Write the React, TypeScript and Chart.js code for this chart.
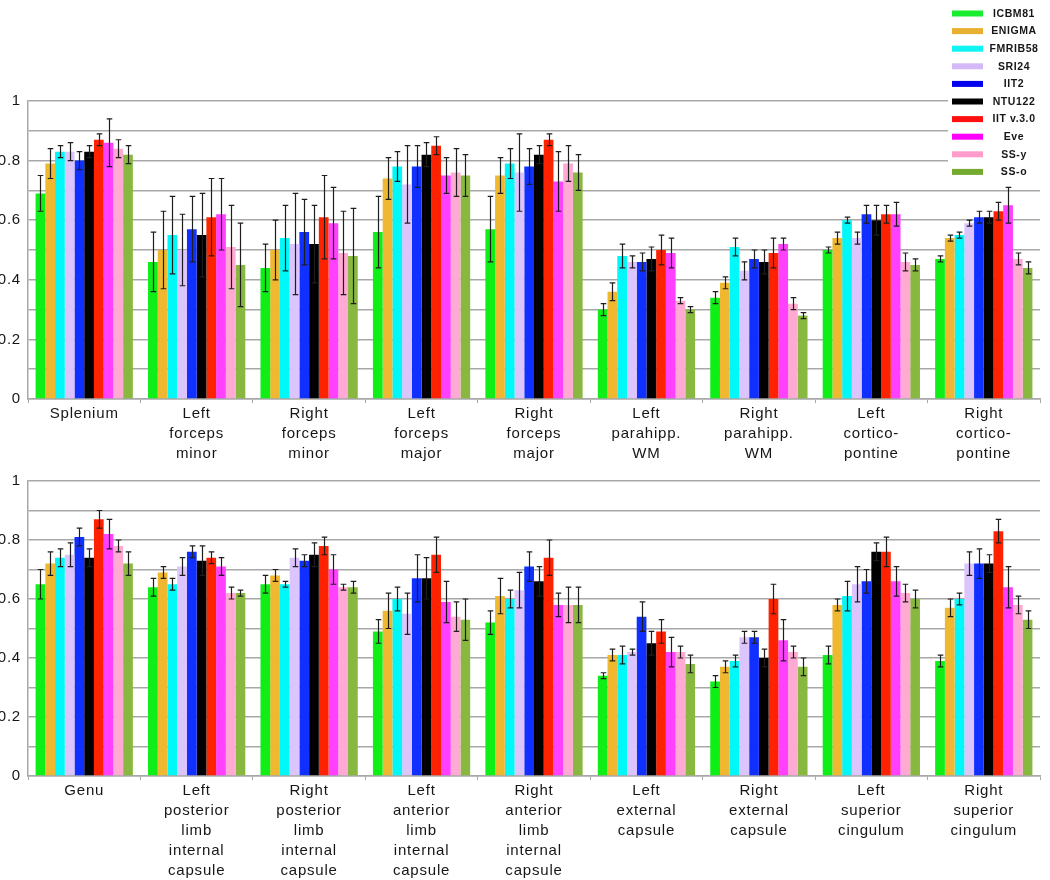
import React, { useEffect, useRef } from 'react';
import { Chart, registerables } from 'chart.js';

Chart.register(...registerables);

// ---------- DATA ----------
const SERIES = ['ICBM81', 'ENIGMA', 'FMRIB58', 'SRI24', 'IIT2', 'NTU122', 'IIT v.3.0', 'Eve', 'SS-y', 'SS-o'];

const TOP_CATEGORIES = [
  ['Splenium'],
  ['Left', 'forceps', 'minor'],
  ['Right', 'forceps', 'minor'],
  ['Left', 'forceps', 'major'],
  ['Right', 'forceps', 'major'],
  ['Left', 'parahipp.', 'WM'],
  ['Right', 'parahipp.', 'WM'],
  ['Left', 'cortico-', 'pontine'],
  ['Right', 'cortico-', 'pontine'],
];

const BOTTOM_CATEGORIES = [
  ['Genu'],
  ['Left', 'posterior', 'limb', 'internal', 'capsule'],
  ['Right', 'posterior', 'limb', 'internal', 'capsule'],
  ['Left', 'anterior', 'limb', 'internal', 'capsule'],
  ['Right', 'anterior', 'limb', 'internal', 'capsule'],
  ['Left', 'external', 'capsule'],
  ['Right', 'external', 'capsule'],
  ['Left', 'superior', 'cingulum'],
  ['Right', 'superior', 'cingulum'],
];

const Y_LABELED_TICKS = [0, 0.2, 0.4, 0.6, 0.8, 1];

// Top panel means
const TOP_ICBM81 = [0.69, 0.46, 0.44, 0.56, 0.57, 0.30, 0.34, 0.50, 0.47];
const TOP_ENIGMA = [0.79, 0.50, 0.50, 0.74, 0.75, 0.36, 0.39, 0.54, 0.54];
const TOP_FMRIB58 = [0.83, 0.55, 0.54, 0.78, 0.79, 0.48, 0.51, 0.60, 0.55];
const TOP_SRI24 = [0.83, 0.50, 0.52, 0.72, 0.76, 0.46, 0.43, 0.54, 0.59];
const TOP_IIT2 = [0.80, 0.57, 0.56, 0.78, 0.78, 0.46, 0.47, 0.62, 0.61];
const TOP_NTU122 = [0.83, 0.55, 0.52, 0.82, 0.82, 0.47, 0.46, 0.60, 0.61];
const TOP_IITV3 = [0.87, 0.61, 0.61, 0.85, 0.87, 0.50, 0.49, 0.62, 0.63];
const TOP_EVE = [0.86, 0.62, 0.59, 0.75, 0.73, 0.49, 0.52, 0.62, 0.65];
const TOP_SSY = [0.84, 0.51, 0.49, 0.76, 0.79, 0.33, 0.32, 0.46, 0.47];
const TOP_SSO = [0.82, 0.45, 0.48, 0.75, 0.76, 0.30, 0.28, 0.45, 0.44];

// Top panel error (±)
const TOP_ICBM81_ERR = [0.06, 0.10, 0.08, 0.12, 0.11, 0.02, 0.02, 0.01, 0.01];
const TOP_ENIGMA_ERR = [0.05, 0.13, 0.10, 0.07, 0.06, 0.03, 0.02, 0.02, 0.01];
const TOP_FMRIB58_ERR = [0.02, 0.13, 0.11, 0.05, 0.05, 0.04, 0.03, 0.01, 0.01];
const TOP_SRI24_ERR = [0.03, 0.12, 0.17, 0.13, 0.13, 0.02, 0.03, 0.02, 0.01];
const TOP_IIT2_ERR = [0.03, 0.11, 0.11, 0.07, 0.06, 0.03, 0.03, 0.03, 0.02];
const TOP_NTU122_ERR = [0.02, 0.14, 0.13, 0.04, 0.03, 0.04, 0.04, 0.05, 0.02];
const TOP_IITV3_ERR = [0.02, 0.13, 0.14, 0.03, 0.02, 0.05, 0.05, 0.03, 0.03];
const TOP_EVE_ERR = [0.08, 0.12, 0.12, 0.06, 0.10, 0.05, 0.02, 0.04, 0.06];
const TOP_SSY_ERR = [0.03, 0.14, 0.14, 0.08, 0.06, 0.01, 0.02, 0.03, 0.02];
const TOP_SSO_ERR = [0.03, 0.14, 0.16, 0.07, 0.06, 0.01, 0.01, 0.02, 0.02];

// Bottom panel means
const BOT_ICBM81 = [0.65, 0.64, 0.65, 0.49, 0.52, 0.34, 0.32, 0.41, 0.39];
const BOT_ENIGMA = [0.72, 0.69, 0.68, 0.56, 0.61, 0.41, 0.37, 0.58, 0.57];
const BOT_FMRIB58 = [0.74, 0.65, 0.65, 0.60, 0.60, 0.41, 0.39, 0.61, 0.60];
const BOT_SRI24 = [0.75, 0.71, 0.74, 0.55, 0.63, 0.42, 0.47, 0.65, 0.72];
const BOT_IIT2 = [0.81, 0.76, 0.73, 0.67, 0.71, 0.54, 0.47, 0.66, 0.72];
const BOT_NTU122 = [0.74, 0.73, 0.75, 0.67, 0.66, 0.45, 0.40, 0.76, 0.72];
const BOT_IITV3 = [0.87, 0.74, 0.78, 0.75, 0.74, 0.49, 0.60, 0.76, 0.83];
const BOT_EVE = [0.82, 0.71, 0.70, 0.59, 0.58, 0.42, 0.46, 0.66, 0.64];
const BOT_SSY = [0.78, 0.62, 0.64, 0.54, 0.58, 0.42, 0.42, 0.62, 0.58];
const BOT_SSO = [0.72, 0.62, 0.64, 0.53, 0.58, 0.38, 0.37, 0.60, 0.53];

// Bottom panel error (±)
const BOT_ICBM81_ERR = [0.05, 0.03, 0.03, 0.04, 0.04, 0.01, 0.02, 0.03, 0.02];
const BOT_ENIGMA_ERR = [0.04, 0.02, 0.02, 0.06, 0.06, 0.02, 0.02, 0.02, 0.03];
const BOT_FMRIB58_ERR = [0.03, 0.02, 0.01, 0.04, 0.03, 0.03, 0.02, 0.05, 0.02];
const BOT_SRI24_ERR = [0.04, 0.03, 0.03, 0.07, 0.06, 0.01, 0.02, 0.06, 0.04];
const BOT_IIT2_ERR = [0.03, 0.02, 0.02, 0.08, 0.05, 0.05, 0.02, 0.04, 0.05];
const BOT_NTU122_ERR = [0.03, 0.05, 0.04, 0.07, 0.05, 0.04, 0.03, 0.03, 0.03];
const BOT_IITV3_ERR = [0.03, 0.02, 0.03, 0.06, 0.06, 0.04, 0.05, 0.05, 0.04];
const BOT_EVE_ERR = [0.05, 0.03, 0.05, 0.07, 0.04, 0.05, 0.07, 0.05, 0.07];
const BOT_SSY_ERR = [0.02, 0.02, 0.01, 0.05, 0.06, 0.02, 0.02, 0.03, 0.03];
const BOT_SSO_ERR = [0.04, 0.01, 0.02, 0.07, 0.06, 0.03, 0.03, 0.03, 0.03];

const TOP_VALUES = [TOP_ICBM81, TOP_ENIGMA, TOP_FMRIB58, TOP_SRI24, TOP_IIT2, TOP_NTU122, TOP_IITV3, TOP_EVE, TOP_SSY, TOP_SSO];
const TOP_ERRORS = [TOP_ICBM81_ERR, TOP_ENIGMA_ERR, TOP_FMRIB58_ERR, TOP_SRI24_ERR, TOP_IIT2_ERR, TOP_NTU122_ERR, TOP_IITV3_ERR, TOP_EVE_ERR, TOP_SSY_ERR, TOP_SSO_ERR];
const BOT_VALUES = [BOT_ICBM81, BOT_ENIGMA, BOT_FMRIB58, BOT_SRI24, BOT_IIT2, BOT_NTU122, BOT_IITV3, BOT_EVE, BOT_SSY, BOT_SSO];
const BOT_ERRORS = [BOT_ICBM81_ERR, BOT_ENIGMA_ERR, BOT_FMRIB58_ERR, BOT_SRI24_ERR, BOT_IIT2_ERR, BOT_NTU122_ERR, BOT_IITV3_ERR, BOT_EVE_ERR, BOT_SSY_ERR, BOT_SSO_ERR];

// ---------- STYLE ----------
const BAR_COLORS = ['#10ee18', '#f0b830', '#00f8f8', '#dcc4fc', '#1030ff', '#000000', '#ff2200', '#ff40ff', '#ffaad2', '#88b840'];
const LEGEND_COLORS = ['#18ee30', '#e8b030', '#10f4f4', '#d4b8f8', '#0000ee', '#000000', '#ff1010', '#ff00ff', '#ff9ccc', '#74aa30'];
const FONT_FAMILY = '"Liberation Sans", Arial, Helvetica, sans-serif';
const GRID_COLOR = '#a8a8a8';
const TEXT_COLOR = '#161616';

const letterSpacingPlugin = {
  id: 'letterSpacing',
  beforeDraw(chart: any) {
    try { (chart.ctx as any).letterSpacing = '0.8px'; } catch (e) {}
  },
  afterDraw(chart: any) {
    try { (chart.ctx as any).letterSpacing = '0px'; } catch (e) {}
  },
};

const errorBarPlugin = {
  id: 'errorBars',
  afterDatasetsDraw(chart: any) {
    const ctx = chart.ctx;
    const yScale = chart.scales.y;
    ctx.save();
    ctx.strokeStyle = '#1e1e1e';
    ctx.lineWidth = 1.2;
    chart.data.datasets.forEach((ds: any, di: number) => {
      const meta = chart.getDatasetMeta(di);
      if (!ds.errors) return;
      meta.data.forEach((el: any, i: number) => {
        const v = ds.data[i];
        const e = ds.errors[i];
        if (v == null || e == null) return;
        const x = Math.round(el.x) + 0.5;
        const yt = yScale.getPixelForValue(v + e);
        const yb = yScale.getPixelForValue(v - e);
        const cap = 2.8;
        ctx.beginPath();
        ctx.moveTo(x, yt);
        ctx.lineTo(x, yb);
        ctx.moveTo(x - cap, yt);
        ctx.lineTo(x + cap, yt);
        ctx.moveTo(x - cap, yb);
        ctx.lineTo(x + cap, yb);
        ctx.stroke();
      });
    });
    ctx.restore();
  },
};

const boxLegendPlugin = {
  id: 'boxLegend',
  afterDraw(chart: any) {
    const opts = chart.options.plugins.boxLegend;
    if (!opts || !opts.display) return;
    const ctx = chart.ctx;
    ctx.save();
    ctx.fillStyle = '#ffffff';
    ctx.fillRect(948, 0, 102, 182);
    const startY = 13.5;
    const step = 17.6;
    chart.data.datasets.forEach((ds: any, i: number) => {
      const cy = startY + i * step;
      ctx.fillStyle = LEGEND_COLORS[i];
      ctx.fillRect(952, cy - 3, 31, 6);
      ctx.fillStyle = TEXT_COLOR;
      ctx.font = `bold 10.5px ${FONT_FAMILY}`;
      try { (ctx as any).letterSpacing = '0.6px'; } catch (e) {}
      ctx.textAlign = 'center';
      ctx.textBaseline = 'middle';
      ctx.fillText(ds.label, 1014, cy + 0.5);
    });
    ctx.restore();
  },
};

function formatTick(v: number): string {
  const hit = Y_LABELED_TICKS.find((t) => Math.abs(t - v) < 1e-6);
  if (hit === undefined) return '';
  if (hit === 0) return '0';
  if (hit === 1) return '1';
  return hit.toFixed(1);
}

type PanelProps = {
  categories: string[][];
  values: number[][];
  errors: number[][];
  width: number;
  height: number;
  padTop: number;
  axisHeight: number;
  legend: boolean;
  style: React.CSSProperties;
};

function BarPanel({ categories, values, errors, width, height, padTop, axisHeight, legend, style }: PanelProps) {
  const ref = useRef<HTMLCanvasElement | null>(null);
  useEffect(() => {
    if (!ref.current) return;
    const chart = new Chart(ref.current, {
      type: 'bar',
      data: {
        labels: categories,
        datasets: SERIES.map((name, i) => ({
          label: name,
          data: values[i],
          errors: errors[i],
          backgroundColor: BAR_COLORS[i],
          borderWidth: 0,
          barPercentage: 1,
          categoryPercentage: 0.865,
        })) as any,
      },
      options: {
        animation: false,
        responsive: false,
        maintainAspectRatio: false,
        events: [],
        layout: { padding: { top: padTop, left: 0, right: 10, bottom: 0 } },
        plugins: {
          legend: { display: false },
          tooltip: { enabled: false },
          boxLegend: { display: legend },
        } as any,
        scales: {
          x: {
            afterFit: (s: any) => { s.height = axisHeight; },
            grid: {
              display: true,
              offset: true,
              drawOnChartArea: false,
              drawTicks: true,
              tickLength: 4,
              color: GRID_COLOR,
              lineWidth: 1,
            },
            border: { display: true, color: GRID_COLOR, width: 1.5 },
            ticks: {
              padding: 1,
              maxRotation: 0,
              minRotation: 0,
              autoSkip: false,
              color: TEXT_COLOR,
              font: { family: FONT_FAMILY, size: 15, lineHeight: 1.3333 },
            },
          },
          y: {
            min: 0,
            max: 1,
            afterFit: (s: any) => { s.width = 28; },
            grid: { color: GRID_COLOR, lineWidth: 1.5, drawTicks: false },
            border: { display: true, color: GRID_COLOR, width: 1.5 },
            ticks: {
              stepSize: 0.1,
              padding: 7,
              autoSkip: false,
              color: TEXT_COLOR,
              font: { family: FONT_FAMILY, size: 15 },
              callback: (v: any) => formatTick(Number(v)),
            },
          },
        },
      } as any,
      plugins: [letterSpacingPlugin, errorBarPlugin, boxLegendPlugin],
    });
    return () => chart.destroy();
  }, []);
  return <canvas ref={ref} width={width} height={height} style={{ position: 'absolute', ...style }} />;
}

export default function App() {
  return (
    <div style={{ position: 'fixed', left: 0, top: 0, width: 1050, height: 880, background: '#ffffff', overflow: 'hidden' }}>
      <BarPanel
        categories={TOP_CATEGORIES}
        values={TOP_VALUES}
        errors={TOP_ERRORS}
        width={1050}
        height={465}
        padTop={101}
        axisHeight={66}
        legend={true}
        style={{ left: 0, top: 0 }}
      />
      <BarPanel
        categories={BOTTOM_CATEGORIES}
        values={BOT_VALUES}
        errors={BOT_ERRORS}
        width={1050}
        height={415}
        padTop={13}
        axisHeight={104}
        legend={false}
        style={{ left: 0, top: 465 }}
      />
    </div>
  );
}
